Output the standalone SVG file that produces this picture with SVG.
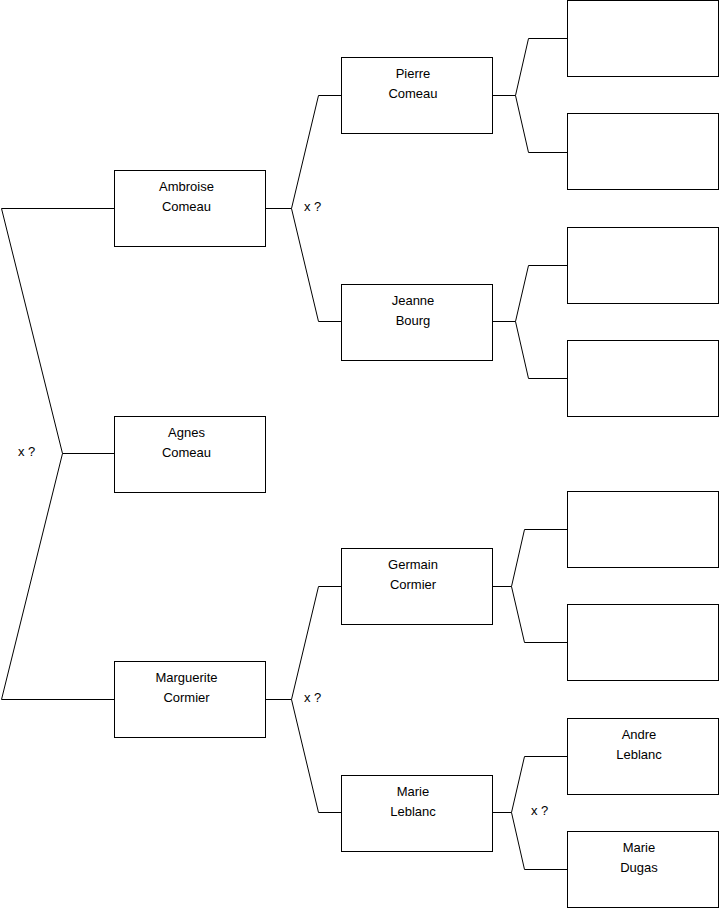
<svg xmlns="http://www.w3.org/2000/svg" width="719" height="908" viewBox="0 0 719 908">
<style>
.box{fill:#fff;stroke:#000;stroke-width:1}
.ln{fill:none;stroke:#000;stroke-width:1}
text{font-family:"Liberation Sans",Arial,sans-serif;font-size:13px;fill:#000}
.c{text-anchor:middle}
</style>
<rect width="719" height="908" fill="#fff"/>
<g id="connectors">
<path class="ln" d="M114.5,208.5H1.5L62.5,453.5L1.5,699.5H114.5M62.5,453.5H114.5"/>
<path class="ln" d="M265.5,208.5H291.5L318.5,95.5H341.5M291.5,208.5L318.5,321.5H341.5"/>
<path class="ln" d="M265.5,699.5H291.5L318.5,586.5H341.5M291.5,699.5L318.5,812.5H341.5"/>
<path class="ln" d="M492.5,95.5H515.5L528.5,38.5H567.5M515.5,95.5L528.5,152.5H567.5"/>
<path class="ln" d="M492.5,321.5H515.5L528.5,265.5H567.5M515.5,321.5L528.5,378.5H567.5"/>
<path class="ln" d="M492.5,586.5H511.5L524.5,529.5H567.5M511.5,586.5L524.5,642.5H567.5"/>
<path class="ln" d="M492.5,812.5H511.5L524.5,756.5H567.5M511.5,812.5L524.5,869.5H567.5"/>
<text x="18" y="456">x ?</text>
<text x="304" y="211">x ?</text>
<text x="304" y="702">x ?</text>
<text x="531" y="815">x ?</text>
</g>
<g id="ambroise"><rect class="box" x="114.5" y="170.5" width="151" height="76"/><text class="c" x="186.5" y="190.5">Ambroise</text><text class="c" x="186.5" y="210.5">Comeau</text></g>
<g id="agnes"><rect class="box" x="114.5" y="416.5" width="151" height="76"/><text class="c" x="186.5" y="436.5">Agnes</text><text class="c" x="186.5" y="456.5">Comeau</text></g>
<g id="marguerite"><rect class="box" x="114.5" y="661.5" width="151" height="76"/><text class="c" x="186.5" y="681.5">Marguerite</text><text class="c" x="186.5" y="701.5">Cormier</text></g>
<g id="pierre"><rect class="box" x="341.5" y="57.5" width="151" height="76"/><text class="c" x="413" y="77.5">Pierre</text><text class="c" x="413" y="97.5">Comeau</text></g>
<g id="jeanne"><rect class="box" x="341.5" y="284.5" width="151" height="76"/><text class="c" x="413" y="304.5">Jeanne</text><text class="c" x="413" y="324.5">Bourg</text></g>
<g id="germain"><rect class="box" x="341.5" y="548.5" width="151" height="76"/><text class="c" x="413" y="568.5">Germain</text><text class="c" x="413" y="588.5">Cormier</text></g>
<g id="marie-leblanc"><rect class="box" x="341.5" y="775.5" width="151" height="76"/><text class="c" x="413" y="795.5">Marie</text><text class="c" x="413" y="815.5">Leblanc</text></g>
<g id="r1"><rect class="box" x="567.5" y="0.5" width="151" height="76"/></g>
<g id="r2"><rect class="box" x="567.5" y="113.5" width="151" height="76"/></g>
<g id="r3"><rect class="box" x="567.5" y="227.5" width="151" height="76"/></g>
<g id="r4"><rect class="box" x="567.5" y="340.5" width="151" height="76"/></g>
<g id="r5"><rect class="box" x="567.5" y="491.5" width="151" height="76"/></g>
<g id="r6"><rect class="box" x="567.5" y="604.5" width="151" height="76"/></g>
<g id="andre"><rect class="box" x="567.5" y="718.5" width="151" height="76"/><text class="c" x="639" y="738.5">Andre</text><text class="c" x="639" y="758.5">Leblanc</text></g>
<g id="marie-dugas"><rect class="box" x="567.5" y="831.5" width="151" height="76"/><text class="c" x="639" y="851.5">Marie</text><text class="c" x="639" y="871.5">Dugas</text></g>
</svg>
